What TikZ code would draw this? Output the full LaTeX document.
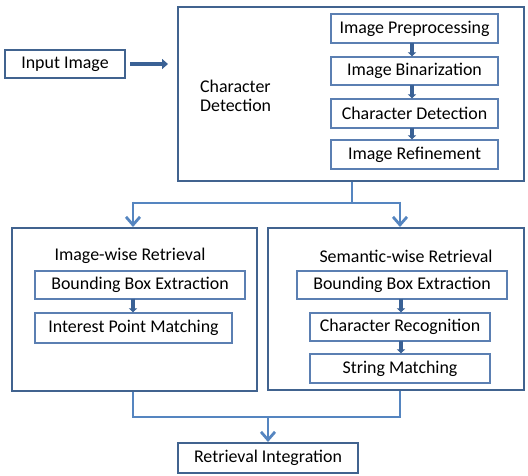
\documentclass[tikz,border=0pt]{standalone}
\usepackage{fontspec}
\setmainfont{Carlito}
\usetikzlibrary{arrows.meta}
\definecolor{boxc}{HTML}{41638F}
\definecolor{innerc}{HTML}{5B7FB2}
\definecolor{linec}{HTML}{5585C0}
\definecolor{arrc}{HTML}{3A6195}
\begin{document}
\begin{tikzpicture}[x=1pt,y=-1pt,
  font=\fontsize{17.9}{21}\selectfont,
  outer/.style={draw=boxc, line width=2pt},
  inner/.style={draw=innerc, line width=1.2pt, inner sep=0pt},
  conn/.style={draw=linec, line width=2.8pt},
  connarr/.style={conn, -{Straight Barb[length=8pt,width=14pt,line width=2.8pt]}},
  small/.style={draw=arrc, line width=3.2pt, -{Triangle[length=4pt,width=8pt]}, shorten <=-1pt},
  fat/.style={draw=arrc, line width=4pt, -{Triangle[length=6pt,width=10pt]}}
]
\useasboundingbox (0,0) rectangle (528,475);
% Input
\node[outer, minimum width=120pt, minimum height=28pt, inner sep=0pt] (in) at (65,64) {Input Image};
% Character detection outer
\node[outer, minimum width=346pt, minimum height=174pt, inner sep=0pt] (cd) at (351,94) {};
\node[anchor=west, align=left, inner sep=0pt, font=\fontsize{17.9}{19.5}\selectfont] (cdl) at (200,96) {Character\\Detection};
\node[inner, minimum width=167pt, minimum height=29pt] (p1) at (414.5,28.5) {Image Preprocessing};
\node[inner, minimum width=167pt, minimum height=28pt] (p2) at (414.5,71) {Image Binarization};
\node[inner, minimum width=167pt, minimum height=29pt] (p3) at (414.5,113.5) {Character Detection};
\node[inner, minimum width=167pt, minimum height=29pt] (p4) at (414.5,154.5) {Image Refinement};
\draw[small] (p1.south -| 412,0) -- (p2.north -| 412,0);
\draw[small] (p2.south -| 412,0) -- (p3.north -| 412,0);
\draw[small] (p3.south -| 412,0) -- (p4.north -| 412,0);
\draw[fat] (in.east) ++(4,0) coordinate (fa) -- (168,64) coordinate (fb);
% Retrieval boxes
\node[outer, minimum width=245pt, minimum height=163pt, inner sep=0pt] (iw) at (134.5,309.5) {};
\node[outer, minimum width=256pt, minimum height=162pt, inner sep=0pt] (sw) at (396,309) {};
\node[inner sep=0pt] (iwt) at (130,256) {Image-wise Retrieval};
\node[inner sep=0pt] (swt) at (406,256) {Semantic-wise Retrieval};
\node[inner, minimum width=210pt, minimum height=28pt] (b1) at (140,285) {Bounding Box Extraction};
\node[inner, minimum width=197pt, minimum height=30pt] (b2) at (133.5,328) {Interest Point Matching};
\node[inner, minimum width=210pt, minimum height=28pt] (s1) at (402,285) {Bounding Box Extraction};
\node[inner, minimum width=180pt, minimum height=28pt] (s2) at (400,327) {Character Recognition};
\node[inner, minimum width=180pt, minimum height=29pt] (s3) at (400,368.5) {String Matching};
\draw[small] (b1.south -| 133,0) -- (b2.north -| 133,0);
\draw[small] (s1.south -| 401,0) -- (s2.north -| 401,0);
\draw[small] (s2.south -| 401,0) -- (s3.north -| 401,0);
% connectors
\coordinate (j1) at (352,203);
\draw[conn] (cd.south -| j1) -- (j1);
\draw[conn] (133,203) -- (400,203);
\draw[connarr] (133,201.6) -- (iw.north -| 133,0);
\draw[connarr] (400,201.6) -- (sw.north -| 400,0);
\node[outer, minimum width=180pt, minimum height=30pt, inner sep=0pt] (ri) at (268,458) {Retrieval Integration};
\coordinate (j2) at (268,417);
\draw[conn] (iw.south -| 133,0) -- (133,417) -- (400,417) -- (sw.south -| 400,0);
\draw[connarr] (j2) -- (ri.north);
\end{tikzpicture}
\end{document}
